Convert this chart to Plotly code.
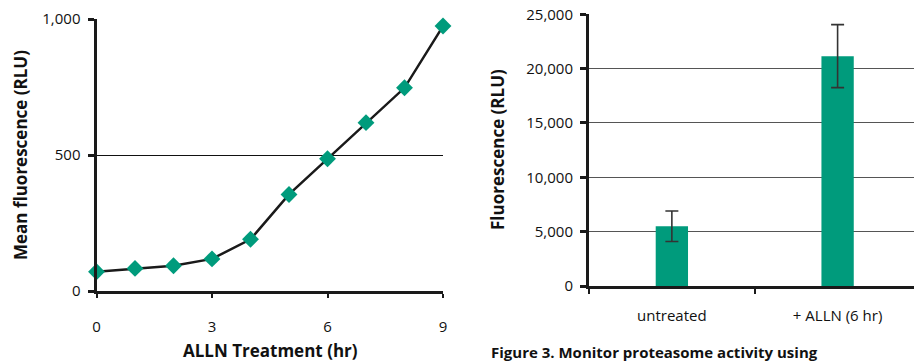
import plotly.graph_objects as go

# Left chart data
hours = [0, 1, 2, 3, 4, 5, 6, 7, 8, 9]
mean_fluor = [71, 83, 93, 118, 190, 355, 486, 619, 747, 974]
left_yticks = [0, 500, 1000]
left_xticks = [0, 3, 6, 9]

# Right chart data
conditions = ["untreated", "+ ALLN (6 hr)"]
fluor = [5500, 21150]
fluor_err = [1400, 2900]
right_yticks = [0, 5000, 10000, 15000, 20000, 25000]

GREEN = "#009B7C"
DARK = "#1a1a1a"
FONT = "Open Sans"

W, H = 914, 364

def fx(px):
    return px / W

def fy(py):
    return (H - py) / H

fig = go.Figure()

fig.add_trace(go.Scatter(
    x=hours, y=mean_fluor, mode="lines+markers",
    line=dict(color=DARK, width=2.5),
    marker=dict(symbol="diamond", size=13, color=GREEN, line=dict(width=0)),
    cliponaxis=False, xaxis="x", yaxis="y", showlegend=False,
))

fig.add_trace(go.Bar(
    x=conditions, y=fluor, width=0.195,
    marker=dict(color=GREEN, line=dict(width=0)),
    error_y=dict(type="data", array=fluor_err, color="#333333", thickness=1.6, width=6.5),
    xaxis="x2", yaxis="y2", showlegend=False,
))

tickfont = dict(family=FONT, size=15, color="#111111")

fig.update_layout(
    width=W, height=H,
    margin=dict(l=0, r=0, t=0, b=0, autoexpand=False),
    paper_bgcolor="white", plot_bgcolor="white",
    xaxis=dict(
        domain=[fx(96.5), fx(443)], range=[0, 9], anchor="y", automargin=False,
        tickvals=left_xticks, ticks="outside", ticklen=4, tickwidth=2, tickcolor=DARK,
        showline=True, linewidth=3, linecolor=DARK, showgrid=False, zeroline=False,
        tickfont=tickfont, ticklabelstandoff=16,
    ),
    yaxis=dict(
        domain=[fy(291), fy(19)], range=[0, 1000], anchor="x", automargin=False,
        tickvals=left_yticks, tickformat=",", ticks="outside", ticklen=6, tickwidth=3,
        tickcolor=DARK, showline=True, linewidth=3, linecolor=DARK,
        showgrid=True, gridcolor="#111111", gridwidth=1, zeroline=False,
        tickfont=tickfont, ticklabelstandoff=4,
    ),
    xaxis2=dict(
        domain=[fx(589), 1], range=[-0.5, 1.461], anchor="y2", type="category", automargin=False,
        tickson="boundaries", ticks="outside", ticklen=5, tickwidth=2, tickcolor=DARK,
        showline=True, linewidth=3, linecolor=DARK, showgrid=False, zeroline=False,
        tickfont=tickfont, ticklabelstandoff=14,
    ),
    yaxis2=dict(
        domain=[fy(286), fy(14.3)], range=[0, 25000], anchor="x2", automargin=False,
        tickvals=right_yticks, tickformat=",", ticks="outside", ticklen=6, tickwidth=3,
        tickcolor=DARK, showline=True, linewidth=3, linecolor=DARK,
        showgrid=True, gridcolor="#555555", gridwidth=1, zeroline=False,
        tickfont=tickfont, ticklabelstandoff=4,
    ),
    annotations=[
        dict(text="<b>Mean fluorescence (RLU)</b>", x=fx(20), y=fy(155), xref="paper", yref="paper",
             textangle=-90, showarrow=False, font=dict(family=FONT, size=17, color="#111111"),
             xanchor="center", yanchor="middle"),
        dict(text="<b>ALLN Treatment (hr)</b>", x=fx(270), y=fy(363.5), xref="paper", yref="paper",
             showarrow=False, font=dict(family=FONT, size=17, color="#111111"),
             xanchor="center", yanchor="bottom"),
        dict(text="<b>Fluorescence (RLU)</b>", x=fx(497), y=fy(150), xref="paper", yref="paper",
             textangle=-90, showarrow=False, font=dict(family=FONT, size=17, color="#111111"),
             xanchor="center", yanchor="middle"),
        dict(text="<b>Figure 3. Monitor proteasome activity using</b>", x=fx(489), y=fy(363.5),
             xref="paper", yref="paper", showarrow=False,
             font=dict(family=FONT, size=15, color="#111111"), xanchor="left", yanchor="bottom"),
    ],
)

fig.write_html("out.html")
